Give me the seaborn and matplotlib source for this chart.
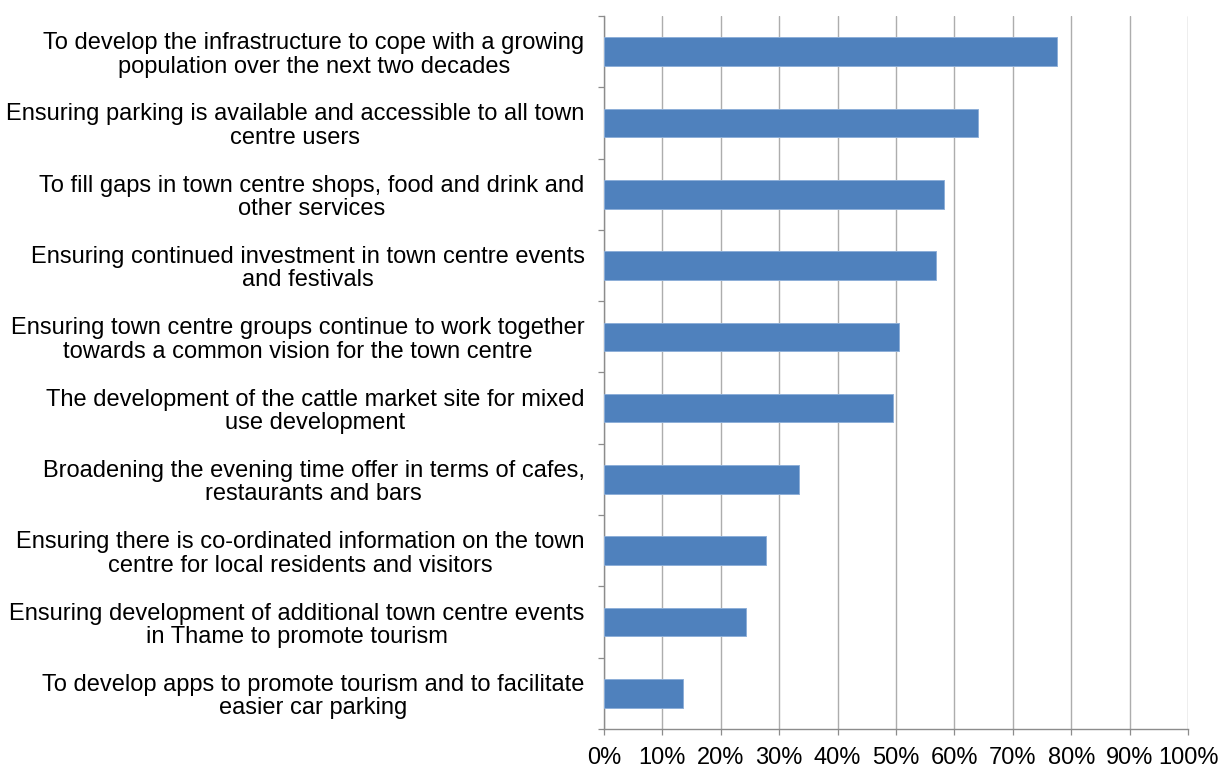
import matplotlib
matplotlib.use("Agg")
import matplotlib.pyplot as plt
from matplotlib.ticker import FixedLocator, FuncFormatter
import seaborn as sns
import pandas as pd

categories = [
    "To develop the infrastructure to cope with a growing\npopulation over the next two decades",
    "Ensuring parking is available and accessible to all town\ncentre users",
    "To fill gaps in town centre shops, food and drink and\nother services",
    "Ensuring continued investment in town centre events\nand festivals",
    "Ensuring town centre groups continue to work together\ntowards a common vision for the town centre",
    "The development of the cattle market site for mixed\nuse development",
    "Broadening the evening time offer in terms of cafes,\nrestaurants and bars",
    "Ensuring there is co-ordinated information on the town\ncentre for local residents and visitors",
    "Ensuring development of additional town centre events\nin Thame to promote tourism",
    "To develop apps to promote tourism and to facilitate\neasier car parking",
]
shares = [77.5, 64.0, 58.2, 56.9, 50.5, 49.5, 33.4, 27.7, 24.3, 13.6]
x_ticks = [0, 10, 20, 30, 40, 50, 60, 70, 80, 90, 100]

df = pd.DataFrame({"priority": categories, "share": shares})

sns.set_theme(style="white")
plt.rcParams["font.family"] = ["Liberation Sans", "DejaVu Sans"]

fig = plt.figure(figsize=(12.22, 7.68), dpi=100)
ax = fig.add_axes([604 / 1222, 1 - 729 / 768, (1188 - 604) / 1222, (729 - 16) / 768])

sns.barplot(data=df, x="share", y="priority", orient="h", color="#4F81BD",
            saturation=1, width=0.4, edgecolor="#8EAFD8", linewidth=0.7, ax=ax, zorder=3)

ax.set_xlim(0, 100)
ax.set_xlabel("")
ax.set_ylabel("")
ax.xaxis.set_major_locator(FixedLocator(x_ticks))
ax.xaxis.set_major_formatter(FuncFormatter(lambda v, _: f"{v:.0f}%"))
ax.grid(axis="x", color="#ADADAD", linewidth=1.0, zorder=0)
ax.grid(axis="y", visible=False)

for side in ("top", "right"):
    ax.spines[side].set_visible(False)
for side in ("left", "bottom"):
    ax.spines[side].set_color("#8C8C8C")
    ax.spines[side].set_linewidth(1.0)

# category boundaries carry the small outward ticks on the value axis side
n = len(categories)
ax.yaxis.set_minor_locator(FixedLocator([i - 0.5 for i in range(n + 1)]))
ax.tick_params(axis="y", which="major", length=0, pad=14, labelsize=17, labelcolor="#000000")
ax.tick_params(axis="y", which="minor", length=4.3, width=0.9, color="#8C8C8C", direction="out", left=True)
ax.tick_params(axis="x", which="major", length=4.3, width=0.9, color="#8C8C8C", direction="out",
               bottom=True, pad=9, labelsize=17, labelcolor="#000000")
for lab in ax.get_yticklabels():
    lab.set_multialignment("center")
    lab.set_linespacing(1.08)

fig.savefig("out.png", dpi=100, facecolor="white")
